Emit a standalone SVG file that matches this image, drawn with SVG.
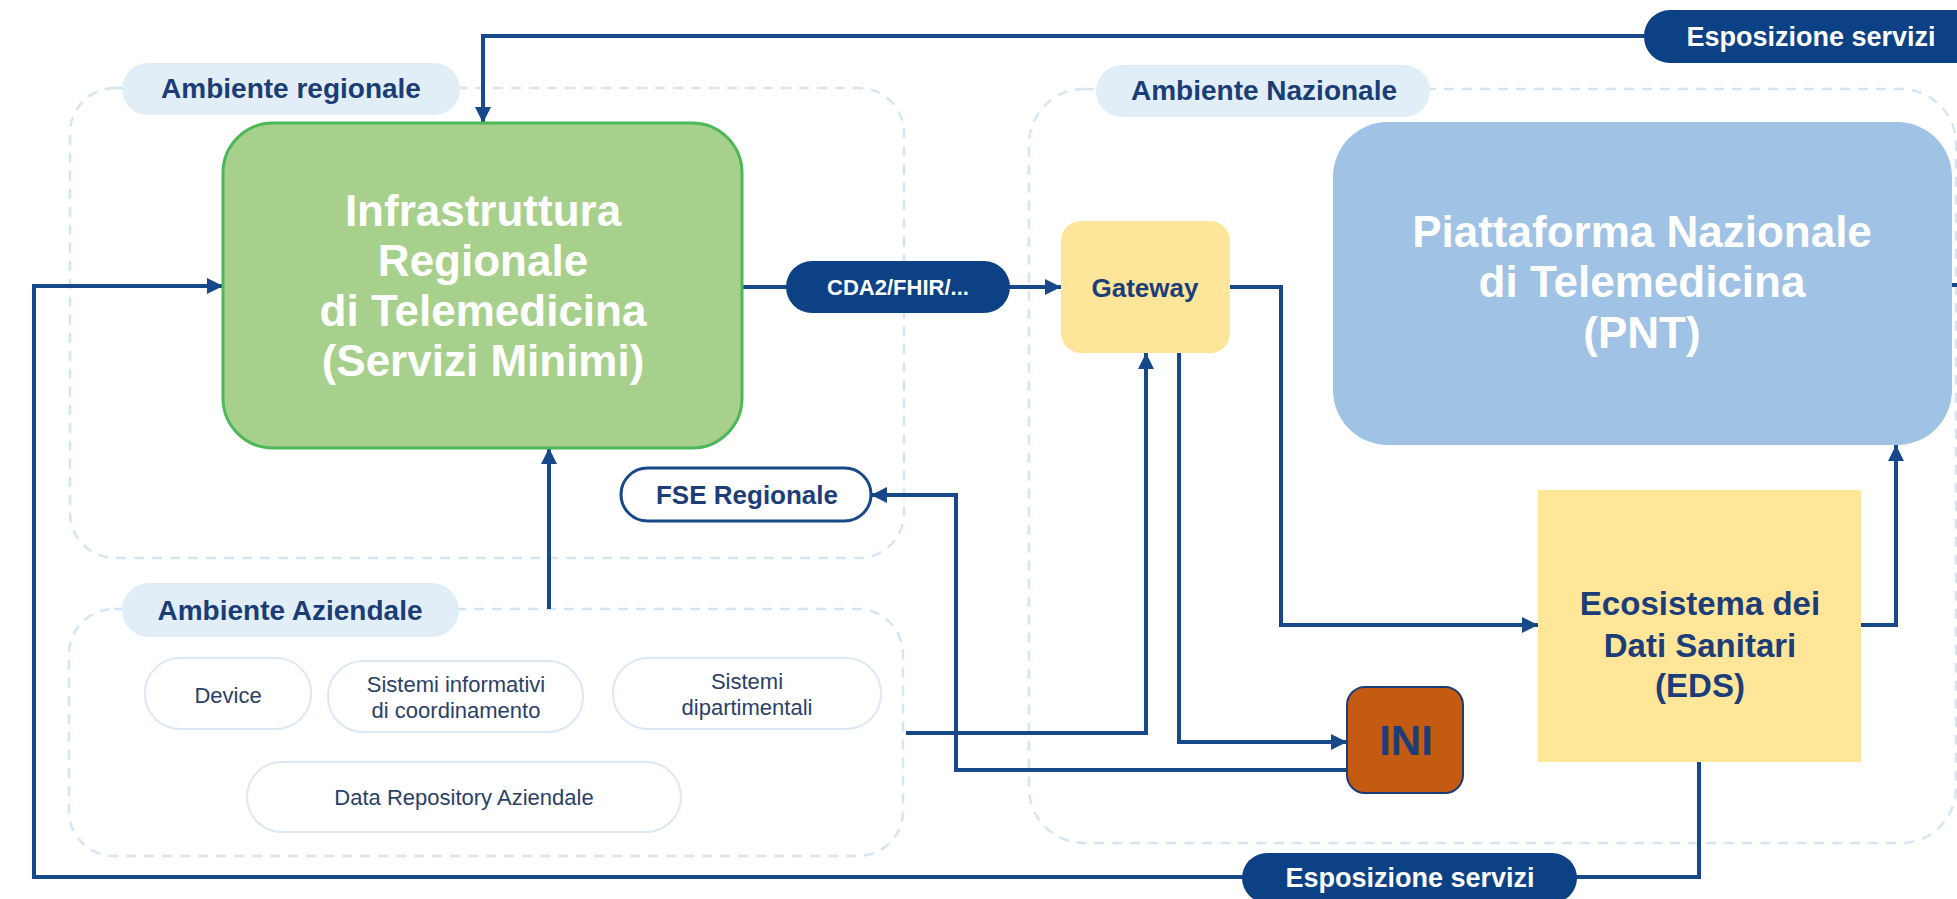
<svg xmlns="http://www.w3.org/2000/svg" width="1957" height="899" viewBox="0 0 1957 899">
<style>
.cont{fill:none;stroke:#d4e5f3;stroke-width:2.5;stroke-dasharray:10 8}
.lbl{fill:#e1eef8}
.lbltxt{font-family:"Liberation Sans",Arial,sans-serif;font-weight:bold;font-size:28px;fill:#1b3d75;text-anchor:middle}
.conn{fill:none;stroke:#17488a;stroke-width:4}
.arr{marker-end:url(#ah)}
.pill{fill:#0c4185}
.pilltxt{font-family:"Liberation Sans",Arial,sans-serif;font-weight:bold;fill:#ffffff;text-anchor:middle}
.sub{fill:#ffffff;stroke:#dce9f5;stroke-width:2}
.subtxt{font-family:"Liberation Sans",Arial,sans-serif;font-size:22px;fill:#2b3f68;text-anchor:middle}
.big{font-family:"Liberation Sans",Arial,sans-serif;font-weight:bold;font-size:44px;fill:#ffffff;text-anchor:middle}
.navy{font-family:"Liberation Sans",Arial,sans-serif;font-weight:bold;fill:#1d3d78;text-anchor:middle}
</style>
<defs>
<marker id="ah" viewBox="0 0 10 10" refX="10" refY="5" markerUnits="userSpaceOnUse" markerWidth="16" markerHeight="16" orient="auto">
<path d="M0,0 L10,5 L0,10 z" fill="#17488a"/>
</marker>
</defs>
<rect width="1957" height="899" fill="#ffffff"/>

<g id="ambiente-regionale">
<rect class="cont" x="70" y="88" width="834" height="470" rx="45"/>
<rect class="lbl" x="122" y="63" width="338" height="52" rx="26"/>
<text class="lbltxt" x="291" y="98">Ambiente regionale</text>
</g>
<g id="ambiente-nazionale">
<rect class="cont" x="1029" y="89" width="927" height="754" rx="55"/>
<rect class="lbl" x="1096" y="65" width="334" height="52" rx="26"/>
<text class="lbltxt" x="1264" y="100">Ambiente Nazionale</text>
</g>
<g id="ambiente-aziendale">
<rect class="cont" x="69" y="609" width="834" height="247" rx="45"/>
<rect class="lbl" x="122" y="583" width="337" height="54" rx="27"/>
<text class="lbltxt" x="290" y="620">Ambiente Aziendale</text>
</g>

<g id="connectors">
<path class="conn arr" d="M1644,36 H483 V123"/>
<path class="conn arr" d="M1699,762 V877 H34 V286 H223"/>
<path class="conn arr" d="M742,287 H1061"/>
<path class="conn arr" d="M549,609 V448"/>
<path class="conn arr" d="M906,733 H1146 V353"/>
<path class="conn arr" d="M1179,353 V742 H1347"/>
<path class="conn arr" d="M1347,770 H956 V495 H871"/>
<path class="conn arr" d="M1230,287 H1281 V625 H1538"/>
<path class="conn arr" d="M1861,625 H1896 V445"/>
<path class="conn" d="M1952,285 H1957"/>
</g>

<g id="label-esposizione-top">
<rect class="pill" x="1644" y="10" width="340" height="53" rx="26"/>
<text class="pilltxt" x="1811" y="46" font-size="27">Esposizione servizi</text>
</g>
<g id="label-esposizione-bottom">
<rect class="pill" x="1242" y="853" width="335" height="50" rx="25"/>
<text class="pilltxt" x="1410" y="887" font-size="27">Esposizione servizi</text>
</g>
<g id="label-cda">
<rect class="pill" x="786" y="261" width="224" height="52" rx="26"/>
<text class="pilltxt" x="898" y="295" font-size="22">CDA2/FHIR/...</text>
</g>

<g id="infrastruttura-regionale">
<rect x="223" y="123" width="519" height="325" rx="50" fill="#a8d08d" stroke="#4cb85a" stroke-width="3"/>
<text class="big" x="483" y="226">Infrastruttura</text>
<text class="big" x="483" y="276">Regionale</text>
<text class="big" x="483" y="326">di Telemedicina</text>
<text class="big" x="483" y="376">(Servizi Minimi)</text>
</g>

<g id="fse-regionale">
<rect x="621" y="468" width="250" height="53" rx="26.5" fill="#ffffff" stroke="#17488a" stroke-width="3"/>
<text class="navy" x="747" y="504" font-size="26">FSE Regionale</text>
</g>

<g id="device">
<rect class="sub" x="145" y="658" width="166" height="71" rx="35"/>
<text class="subtxt" x="228" y="703">Device</text>
</g>
<g id="sistemi-informativi">
<rect class="sub" x="328" y="661" width="255" height="71" rx="35"/>
<text class="subtxt" x="456" y="692">Sistemi informativi</text>
<text class="subtxt" x="456" y="718">di coordinamento</text>
</g>
<g id="sistemi-dipartimentali">
<rect class="sub" x="613" y="658" width="268" height="71" rx="35"/>
<text class="subtxt" x="747" y="689">Sistemi</text>
<text class="subtxt" x="747" y="715">dipartimentali</text>
</g>
<g id="data-repository">
<rect class="sub" x="247" y="762" width="434" height="70" rx="35"/>
<text class="subtxt" x="464" y="805">Data Repository Aziendale</text>
</g>

<g id="gateway">
<rect x="1061" y="221" width="169" height="132" rx="20" fill="#fde599"/>
<text class="navy" x="1145" y="297" font-size="26">Gateway</text>
</g>

<g id="pnt">
<rect x="1333" y="122" width="619" height="323" rx="55" fill="#9fc2e5"/>
<text class="big" x="1642" y="247">Piattaforma Nazionale</text>
<text class="big" x="1642" y="297">di Telemedicina</text>
<text class="big" x="1642" y="348">(PNT)</text>
</g>

<g id="ini">
<rect x="1347" y="687" width="116" height="106" rx="18" fill="#c55a11" stroke="#1d3d78" stroke-width="2"/>
<text class="navy" x="1406" y="755" font-size="42">INI</text>
</g>

<g id="eds">
<rect x="1538" y="490" width="323" height="272" fill="#ffe699"/>
<text class="navy" x="1700" y="615" font-size="33">Ecosistema dei</text>
<text class="navy" x="1700" y="657" font-size="33">Dati Sanitari</text>
<text class="navy" x="1700" y="697" font-size="33">(EDS)</text>
</g>
</svg>
